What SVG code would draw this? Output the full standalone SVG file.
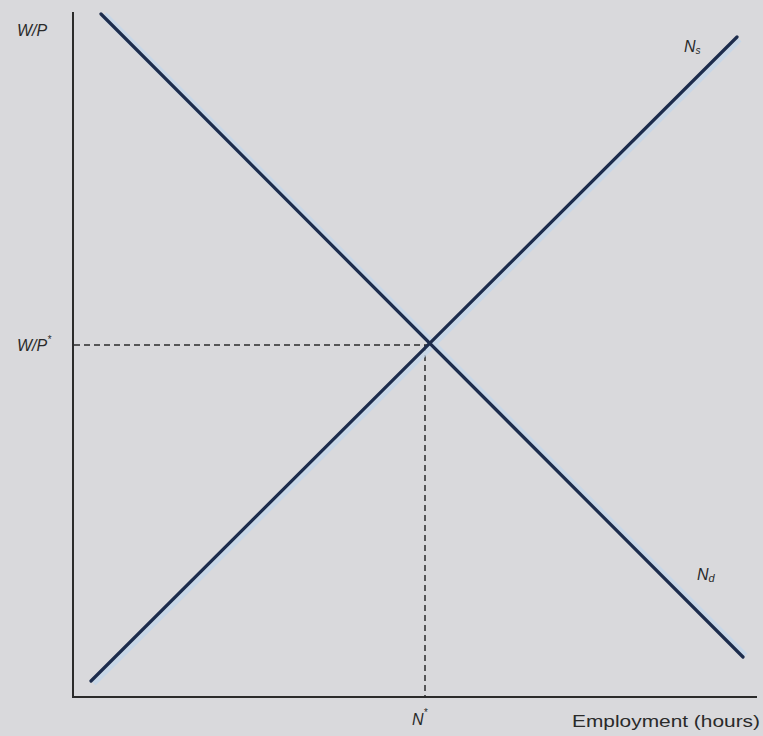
<svg xmlns="http://www.w3.org/2000/svg" width="763" height="736" viewBox="0 0 763 736">
<style>
.lbl{font-family:"Liberation Sans",Arial,sans-serif;font-style:italic;font-size:16px;fill:#2a2a2a}
.ax{stroke:#2b2b2b;stroke-width:2;fill:none}
.curve{stroke:#1d2c4c;stroke-width:3.2;fill:none;stroke-linecap:round}
.halo{stroke:#c3d6ea;stroke-width:7;fill:none;opacity:0.8}
.dash{stroke:#2b2b2b;stroke-width:1.5;stroke-dasharray:6,4;fill:none}
</style>
<rect width="763" height="736" fill="#d9d9dc"/>
<g id="axes">
<line class="ax" x1="73" y1="12" x2="73" y2="697"/>
<line class="ax" x1="72" y1="697" x2="757" y2="697"/>
</g>
<g id="connectors">
<line class="dash" x1="74" y1="345" x2="427" y2="345"/>
<line class="dash" x1="425" y1="345" x2="425" y2="696"/>
<line class="halo" x1="104" y1="15" x2="745" y2="656"/>
<line class="halo" x1="93" y1="683" x2="739" y2="39"/>
<line class="curve" x1="101" y1="14" x2="743" y2="657"/>
<line class="curve" x1="91" y1="681" x2="737" y2="37"/>
</g>
<g id="Nd"><text class="lbl" x="697" y="580">N<tspan font-size="11" dy="2">d</tspan></text></g>
<g id="Ns"><text class="lbl" x="684" y="52">N<tspan font-size="10" dy="2">s</tspan></text></g>
<g id="WP"><text class="lbl" x="17" y="36">W/P</text></g>
<g id="WPstar"><text class="lbl" x="17" y="351">W/P<tspan font-size="10" dy="-8">*</tspan></text></g>
<g id="Nstar"><text class="lbl" x="412" y="725">N<tspan font-size="10" dy="-9">*</tspan></text></g>
<g id="xlabel"><text x="572" y="727" font-family="Liberation Sans,Arial,sans-serif" font-size="17" fill="#2a2a2a" textLength="188" lengthAdjust="spacingAndGlyphs">Employment (hours)</text></g>
</svg>
